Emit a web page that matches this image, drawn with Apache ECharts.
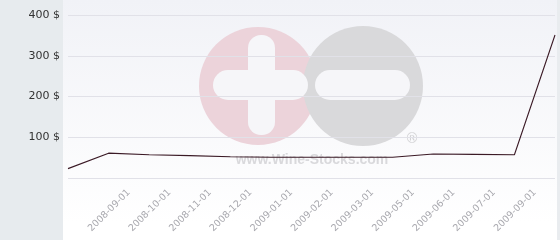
<!DOCTYPE html>
<html><head><meta charset="utf-8">
<script src="https://cdn.jsdelivr.net/npm/echarts@6/dist/echarts.min.js"></script>
<style>html,body{margin:0;padding:0;background:#fff}#c{width:560px;height:240px}</style>
</head><body><div id="c"></div>
<script>
// Data points (13 points; the first has no label)
const pointNames = ['2008-08-01','2008-09-01','2008-10-01','2008-11-01','2008-12-01','2009-01-01','2009-02-01','2009-03-01','2009-05-01','2009-06-01','2009-07-01','2009-08-01','2009-09-01'];
const prices = [23, 61, 57, 55, 52, 51, 51, 51, 51, 59, 58, 57, 351];
// Axis labels as drawn (between points)
const xLabels = ['', '2008-09-01','2008-10-01','2008-11-01','2008-12-01','2009-01-01','2009-02-01','2009-03-01','2009-05-01','2009-06-01','2009-07-01','2009-09-01'];
const yTicks = [0, 100, 200, 300, 400];

const chart = echarts.init(document.getElementById('c'), null, {renderer: 'canvas'});
chart.setOption({
  animation: false,
  backgroundColor: '#ffffff',
  grid: {left: 68, right: 5, top: 15, bottom: 62, containLabel: false},
  graphic: [
    {type: 'rect', z: -30, shape: {x: 0, y: 0, width: 63, height: 240}, style: {fill: '#e7ebee'}},
    {type: 'rect', z: -30, shape: {x: 557, y: 0, width: 3, height: 240}, style: {fill: '#e9ecef'}},
    {type: 'rect', z: -29, shape: {x: 63, y: 0, width: 494, height: 223},
      style: {fill: new echarts.graphic.LinearGradient(0, 0, 0, 1, [{offset: 0, color: '#f1f2f7'}, {offset: 1, color: '#ffffff'}])}},
    {type: 'circle', z: -20, shape: {cx: 258, cy: 86, r: 59}, style: {fill: '#ecd3da'}},
    {type: 'circle', z: -19, shape: {cx: 363, cy: 86, r: 60}, style: {fill: '#d9d9db'}},
    {type: 'rect', z: -18, shape: {x: 248, y: 35, width: 27, height: 100, r: 13}, style: {fill: '#f6f6f9'}},
    {type: 'rect', z: -18, shape: {x: 213, y: 70, width: 95, height: 30, r: 15}, style: {fill: '#f6f6f9'}},
    {type: 'rect', z: -18, shape: {x: 315, y: 70, width: 95, height: 30, r: 15}, style: {fill: '#f6f6f9'}},
    {type: 'text', z: -18, style: {x: 412, y: 139, text: '®', fill: '#d2d2d4', font: '14px "DejaVu Sans"', align: 'center', verticalAlign: 'middle'}},
    {type: 'text', z: -18, style: {x: 312, y: 160, text: 'www.Wine-Stocks.com', fill: '#d9d9dc', font: 'bold 14px "Liberation Sans"', align: 'center', verticalAlign: 'middle'}}
  ],
  xAxis: [
    {type: 'category', data: pointNames, boundaryGap: false,
      axisLine: {show: false}, axisTick: {show: false}, axisLabel: {show: false}, splitLine: {show: false}},
    {type: 'category', data: xLabels, boundaryGap: true, position: 'bottom',
      axisLine: {show: false}, axisTick: {show: false}, splitLine: {show: false},
      axisLabel: {rotate: 45, interval: 0, margin: 13, color: '#a8a8ae', fontSize: 9.5, fontFamily: 'DejaVu Sans'}}
  ],
  yAxis: {type: 'value', min: yTicks[0], max: yTicks[yTicks.length - 1], interval: 100,
    axisLine: {show: false}, axisTick: {show: false},
    axisLabel: {formatter: v => v === 0 ? '' : v + ' $', margin: 8, color: '#333333', fontSize: 11, fontFamily: 'DejaVu Sans'},
    splitLine: {lineStyle: {color: '#e1e1e8', width: 1}}},
  series: [{type: 'line', xAxisIndex: 0, data: prices, showSymbol: false, smooth: false,
    lineStyle: {color: '#3b1a26', width: 1.1}}]
});
</script></body></html>
